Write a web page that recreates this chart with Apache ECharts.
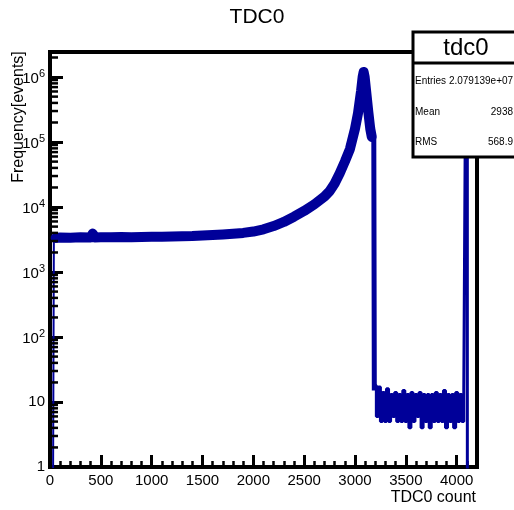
<!DOCTYPE html>
<html><head><meta charset="utf-8">
<script src="https://cdn.jsdelivr.net/npm/echarts@6/dist/echarts.min.js"></script>
<style>html,body{margin:0;padding:0;background:#fff}#c{width:514px;height:510px}</style>
</head><body><div id="c"></div>
<script>
// ---- data ----
const mainTdc = [55, 100, 200, 300, 400, 420, 440, 500, 600, 700, 800, 900, 1000, 1100, 1200, 1300, 1400, 1500,
  1600, 1700, 1800, 1900, 2000, 2100, 2200, 2300, 2400, 2500, 2600, 2700, 2750, 2800, 2850, 2900, 2950, 3000,
  3030, 3060, 3075, 3085, 3095, 3110, 3130, 3150, 3165];
const mainCounts = [3350, 3400, 3380, 3420, 3400, 3900, 3400, 3420, 3430, 3450, 3440, 3470, 3480, 3500, 3520, 3550, 3580, 3650,
  3700, 3780, 3880, 4000, 4200, 4550, 5100, 5900, 7100, 8700, 11000, 14500, 17500, 23000, 33000, 50000, 78000, 160000,
  280000, 620000, 1000000, 1200000, 1000000, 600000, 300000, 160000, 120000];
const edgeTdc = [30, 38, 55];
const edgeCounts = [0.5, 3350, 3350];
const cliffTdc = [3165, 3185, 3190];
const cliffCounts = [120000, 110000, 15];
const tailTdc = [3190, 3210, 3230, 3250, 3270, 3290, 3310, 3330, 3350, 3370, 3390, 3410, 3430, 3450, 3470, 3490,
  3510, 3530, 3550, 3570, 3590, 3610, 3630, 3650, 3670, 3690, 3710, 3730, 3750, 3770, 3790, 3810, 3830, 3850, 3870,
  3890, 3910, 3930, 3950, 3970, 3990, 4010, 4030, 4050, 4070, 4085, 4105];
const tailCounts = [18, 6, 17, 5, 14, 5, 16, 5, 13, 6, 14, 5, 13, 5, 15, 5,
  13, 4, 14, 5, 13, 6, 14, 4, 13, 5, 13, 4, 13, 5, 14, 5, 13, 5, 15,
  4, 13, 5, 13, 4, 14, 5, 13, 5, 16, 200000, 0.5];
const yMantissas = [2, 3, 4, 5, 6, 7, 8, 9];
const yDecades = [1, 10, 100, 1000, 10000, 100000, 1000000];
const statsName = 'tdc0';
const statsLabels = ['Entries 2.079139e+07', 'Mean', 'RMS'];
const statsValues = ['', '2938', '568.9'];
const chartTitle = 'TDC0';
const xTitle = 'TDC0 count';
const yTitle = 'Frequency[events]';

const pair = (xs, ys) => xs.map((x, i) => [x, ys[i]]);
const yMinorTicks = [];
yDecades.forEach(d => yMantissas.forEach(m => { if (m * d < 2.43e6) yMinorTicks.push([0, m * d]); }));

const FONT = 'Liberation Sans, Arial, sans-serif';
const BLUE = '#000099';
const chart = echarts.init(document.getElementById('c'), null, {renderer: 'canvas'});
const statsGraphics = [
  {type: 'rect', z: 100, shape: {x: 413, y: 32, width: 110, height: 125}, style: {fill: '#fff', stroke: '#000', lineWidth: 3}},
  {type: 'line', z: 101, shape: {x1: 413, y1: 63, x2: 514, y2: 63}, style: {stroke: '#000', lineWidth: 3}},
  {type: 'text', z: 101, x: 466, y: 48, style: {text: statsName, font: '24px ' + FONT, fill: '#000', align: 'center', verticalAlign: 'middle'}}
];
[81, 112, 142].forEach((yy, i) => {
  statsGraphics.push({type: 'text', z: 101, x: 415, y: yy, style: {text: statsLabels[i], font: '10px ' + FONT, fill: '#000', align: 'left', verticalAlign: 'middle'}});
  if (statsValues[i]) statsGraphics.push({type: 'text', z: 101, x: 513, y: yy, style: {text: statsValues[i], font: '10px ' + FONT, fill: '#000', align: 'right', verticalAlign: 'middle'}});
});

chart.setOption({
  animation: false,
  backgroundColor: '#fff',
  grid: {left: 50, right: 37, top: 52, bottom: 43, show: true, borderColor: '#000', borderWidth: 4, backgroundColor: 'transparent', containLabel: false, outerBoundsMode: 'none'},
  xAxis: [
    {type: 'value', min: 0, max: 4200, interval: 500, position: 'bottom',
      axisLine: {show: false}, splitLine: {show: false},
      axisTick: {show: true, inside: true, length: 12, lineStyle: {color: '#000', width: 3}},
      axisLabel: {show: true, margin: 6, fontSize: 15, fontFamily: FONT, color: '#000', showMaxLabel: false,
        formatter: v => String(v)}},
    {type: 'value', min: 0, max: 4200, interval: 100, position: 'bottom',
      axisLine: {show: false}, splitLine: {show: false}, axisLabel: {show: false},
      axisTick: {show: true, inside: true, length: 6, lineStyle: {color: '#000', width: 2.5}}}
  ],
  yAxis: {type: 'log', logBase: 10, min: 1, max: 2.43e6, interval: 1, splitNumber: 7,
    axisLine: {show: false}, splitLine: {show: false},
    axisTick: {show: true, inside: true, length: 13, lineStyle: {color: '#000', width: 3}},
    axisLabel: {show: true, margin: 5, fontSize: 15, fontFamily: FONT, color: '#000', showMaxLabel: false,
      formatter: v => {
        const e = Math.round(Math.log10(v));
        if (e === 0) return '1';
        if (e === 1) return '10';
        return '{b|10}{s|' + e + '}';
      },
      rich: {
        b: {fontSize: 15, fontFamily: FONT, color: '#000', verticalAlign: 'bottom', lineHeight: 18},
        s: {fontSize: 11, fontFamily: FONT, color: '#000', verticalAlign: 'top', lineHeight: 11}
      }}},
  graphic: [
    {type: 'text', x: 257, y: 17, style: {text: chartTitle, font: '21px ' + FONT, fill: '#000', align: 'center', verticalAlign: 'middle'}},
    {type: 'text', x: 19, y: 117, rotation: Math.PI / 2, style: {text: yTitle, font: '16px ' + FONT, fill: '#000', align: 'center', verticalAlign: 'middle'}},
    {type: 'text', x: 476, y: 498, style: {text: xTitle, font: '16px ' + FONT, fill: '#000', align: 'right', verticalAlign: 'middle'}},
    ...statsGraphics
  ],
  series: [
    {type: 'line', name: 'main', data: pair(mainTdc, mainCounts), showSymbol: false, clip: true,
      lineStyle: {color: BLUE, width: 10, join: 'round', cap: 'round'}, z: 2},
    {type: 'line', name: 'edge', data: pair(edgeTdc, edgeCounts), step: 'end', showSymbol: false, clip: true,
      lineStyle: {color: BLUE, width: 2}, z: 2},
    {type: 'line', name: 'cliff', data: pair(cliffTdc, cliffCounts), showSymbol: false, clip: true,
      lineStyle: {color: BLUE, width: 5}, z: 2},
    {type: 'line', name: 'tail', data: pair(tailTdc, tailCounts), step: 'end', showSymbol: false, clip: true,
      lineStyle: {color: BLUE, width: 3}, z: 2},
    {type: 'custom', name: 'yminor', data: yMinorTicks, z: 3, silent: true,
      renderItem: (params, api) => {
        const p = api.coord([api.value(0), api.value(1)]);
        return {type: 'line', shape: {x1: p[0], y1: p[1], x2: p[0] + 8, y2: p[1]}, style: {stroke: '#000', lineWidth: 2.5}};
      }}
  ]
});
</script></body></html>
